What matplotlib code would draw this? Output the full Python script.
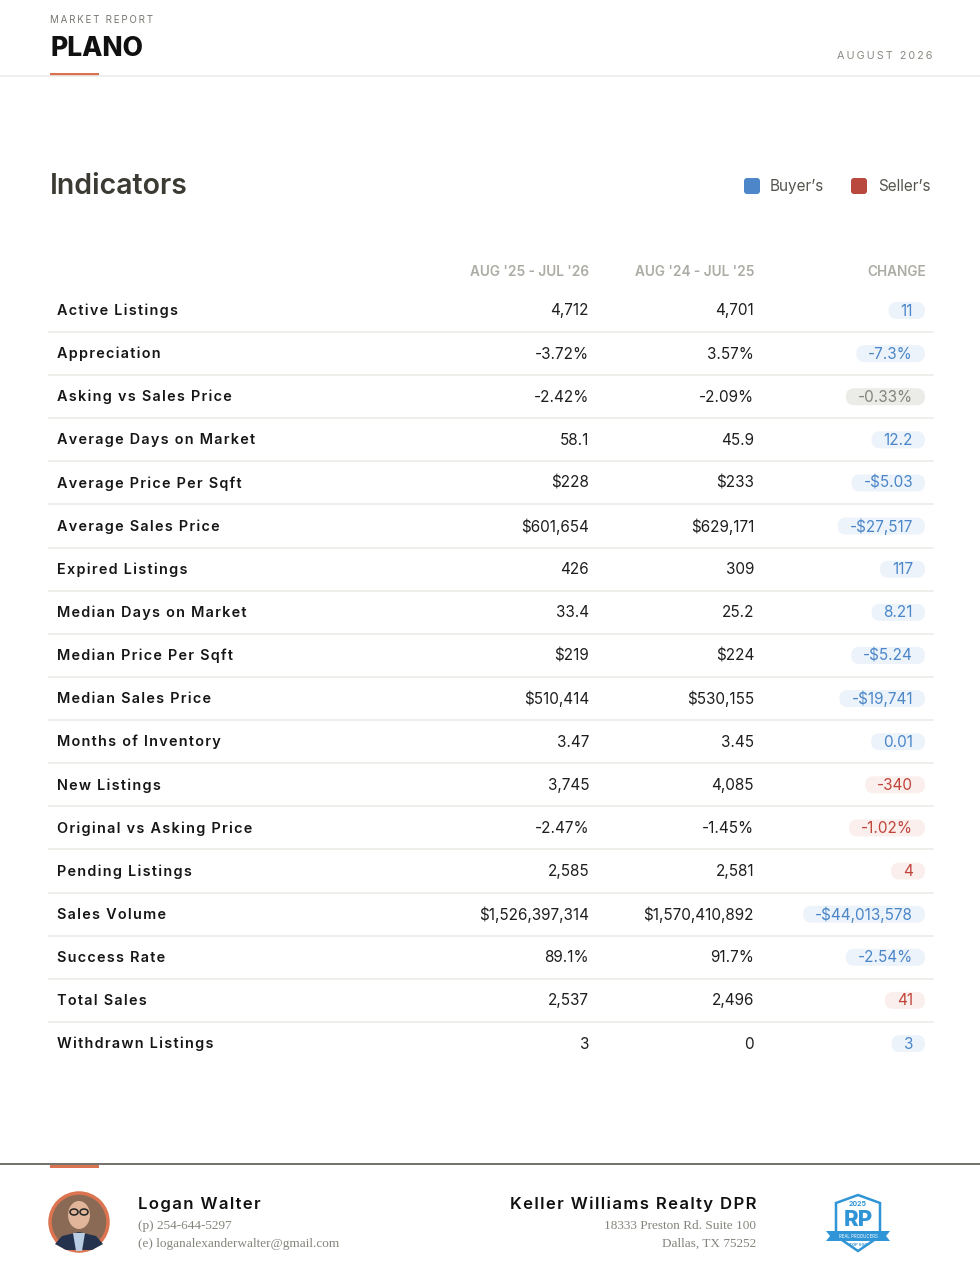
import matplotlib
matplotlib.use("Agg")
from matplotlib import pyplot as plt
from matplotlib.patches import FancyBboxPatch, Circle, Ellipse, Polygon, Rectangle

labels = ["Active Listings", "Appreciation", "Asking vs Sales Price", "Average Days on Market",
          "Average Price Per Sqft", "Average Sales Price", "Expired Listings", "Median Days on Market",
          "Median Price Per Sqft", "Median Sales Price", "Months of Inventory", "New Listings",
          "Original vs Asking Price", "Pending Listings", "Sales Volume", "Success Rate",
          "Total Sales", "Withdrawn Listings"]
current = ["4,712", "-3.72%", "-2.42%", "58.1", "$228", "$601,654", "426", "33.4", "$219",
           "$510,414", "3.47", "3,745", "-2.47%", "2,585", "$1,526,397,314", "89.1%", "2,537", "3"]
prior = ["4,701", "3.57%", "-2.09%", "45.9", "$233", "$629,171", "309", "25.2", "$224",
         "$530,155", "3.45", "4,085", "-1.45%", "2,581", "$1,570,410,892", "91.7%", "2,496", "0"]
change = ["11", "-7.3%", "-0.33%", "12.2", "-$5.03", "-$27,517", "117", "8.21", "-$5.24",
          "-$19,741", "0.01", "-340", "-1.02%", "4", "-$44,013,578", "-2.54%", "41", "3"]
market = ["buyer", "buyer", "neutral", "buyer", "buyer", "buyer", "buyer", "buyer", "buyer",
          "buyer", "buyer", "seller", "seller", "seller", "buyer", "buyer", "seller", "buyer"]
col_headers = ["AUG '25 - JUL '26", "AUG '24 - JUL '25", "CHANGE"]

pill_style = {"buyer": ("#4a86c8", "#edf3fa"),
              "seller": ("#c0443a", "#fbefed"),
              "neutral": ("#85847c", "#ebebe8")}

SANS = ["Inter", "DejaVu Sans"]
SERIF = ["Liberation Serif", "DejaVu Serif"]


def spaced(s, n=1):
    return ("\u200a" * n).join(s)


fig = plt.figure(figsize=(9.8, 12.68), dpi=100)
ax = fig.add_axes([0, 0, 1, 1])
ax.set_xlim(0, 980)
ax.set_ylim(1268, 0)
ax.axis("off")

# header
ax.text(50, 20, spaced("MARKET REPORT", 2), fontsize=7, color="#77776f", family=SANS, va="center")
ax.text(50, 49, "PLANO", fontsize=19, color="#111111", family=SANS, weight="heavy", va="center")
ax.text(932, 56, spaced("AUGUST 2026", 2), fontsize=7.8, color="#8a8a82", family=SANS, va="center", ha="right")
ax.plot([0, 980], [76, 76], color="#ececea", lw=1.2)
ax.add_patch(Rectangle((50, 72.5), 49, 3, color="#d9724f", lw=0))

# title + legend
ax.text(50, 186, "Indicators", fontsize=20.5, color="#3b3a33", family=SANS, weight="semibold", va="center")
ax.add_patch(FancyBboxPatch((744, 178), 16, 16, boxstyle="round,pad=0,rounding_size=3",
                            fc="#4d86c9", ec="none"))
ax.text(770, 186.5, "Buyer’s", fontsize=11, color="#55554f", family=SANS, va="center")
ax.add_patch(FancyBboxPatch((851, 178), 16, 16, boxstyle="round,pad=0,rounding_size=3",
                            fc="#b9483e", ec="none"))
ax.text(878, 186.5, "Seller’s", fontsize=11, color="#55554f", family=SANS, va="center")

# column headers
col_x = [589, 754, 926]
for cx, h in zip(col_x, col_headers):
    ax.text(cx, 271.5, h, fontsize=9.8, color="#acaba4", family=SANS, weight="semibold",
            ha="right", va="center")

# rows
row_h = 43.12
y0 = 311
renderer = fig.canvas.get_renderer()
inv = ax.transData.inverted()
for i, lab in enumerate(labels):
    y = y0 + i * row_h
    ax.text(57, y, spaced(lab), fontsize=10.4, color="#161616", family=SANS, weight="semibold", va="center")
    ax.text(col_x[0], y, current[i], fontsize=11, color="#1e1e1e", family=SANS, ha="right", va="center")
    ax.text(col_x[1], y, prior[i], fontsize=11, color="#1e1e1e", family=SANS, ha="right", va="center")
    tc, bg = pill_style[market[i]]
    t = ax.text(913, y, change[i], fontsize=11, color=tc, family=SANS, ha="right", va="center", zorder=3)
    bb = t.get_window_extent(renderer)
    (x1, _), (x2, _) = inv.transform([[bb.x0, bb.y0], [bb.x1, bb.y1]])
    ax.add_patch(FancyBboxPatch((x1 - 12, y - 9), (x2 - x1) + 24, 17,
                                boxstyle="round,pad=0,rounding_size=8.5", fc=bg, ec="none", zorder=2))
    if i < len(labels) - 1:
        ax.plot([49, 933], [y + 21, y + 21], color="#ebebe8", lw=1.2)

# footer
ax.plot([0, 980], [1164, 1164], color="#5a5a52", lw=1.2)
ax.add_patch(Rectangle((50, 1164.5), 49, 3, color="#d9724f", lw=0))

# portrait
ax.add_patch(Circle((79, 1222), 29, fc="#8a6a55", ec="#dc7450", lw=2.5))
ax.add_patch(Polygon([[55, 1244], [62, 1236], [79, 1232], [96, 1236], [103, 1244], [92, 1250], [66, 1250]],
                     closed=True, fc="#25324e", ec="none"))
ax.add_patch(Polygon([[73, 1233], [85, 1233], [82, 1251], [76, 1251]], closed=True, fc="#b9cde3", ec="none"))
ax.add_patch(Ellipse((79, 1215), 22, 28, fc="#e0b59a", ec="none"))
ax.add_patch(Ellipse((74, 1212), 8, 6, fc="none", ec="#222222", lw=1.1))
ax.add_patch(Ellipse((84, 1212), 8, 6, fc="none", ec="#222222", lw=1.1))

ax.text(138, 1204, spaced("Logan Walter"), fontsize=12, color="#111111", family=SANS, weight="semibold",
        va="center")
ax.text(138, 1226, "(p) 254-644-5297", fontsize=9.5, color="#85847c", family=SERIF, va="center")
ax.text(138, 1244, "(e) loganalexanderwalter@gmail.com", fontsize=9.5, color="#85847c", family=SERIF,
        va="center")

ax.text(756, 1204, spaced("Keller Williams Realty DPR"), fontsize=12, color="#111111", family=SANS,
        weight="semibold", va="center", ha="right")
ax.text(756, 1226, "18333 Preston Rd. Suite 100", fontsize=9.5, color="#85847c", family=SERIF,
        va="center", ha="right")
ax.text(756, 1244, "Dallas, TX 75252", fontsize=9.5, color="#85847c", family=SERIF, va="center", ha="right")

# badge
ax.add_patch(Polygon([[836, 1203], [858, 1195], [880, 1203], [880, 1236], [858, 1251], [836, 1236]],
                     closed=True, fc="white", ec="#2f95d6", lw=1.8))
ax.text(858, 1204, "2025", fontsize=5, color="#2f95d6", family=SANS, weight="bold", ha="center", va="center")
ax.text(858, 1220, "RP", fontsize=16, color="#2f95d6", family=SANS, weight="heavy", ha="center", va="center")
ax.add_patch(Polygon([[826, 1231], [890, 1231], [886, 1236], [890, 1241], [826, 1241], [830, 1236]],
                     closed=True, fc="#2f95d6", ec="none"))
ax.text(858, 1236, "REAL PRODUCERS", fontsize=3.2, color="white", family=SANS, ha="center", va="center")
ax.text(858, 1245, "TOP 500", fontsize=3, color="#2f95d6", family=SANS, weight="bold", ha="center", va="center")

fig.savefig("out.png", dpi=100, facecolor="white")
